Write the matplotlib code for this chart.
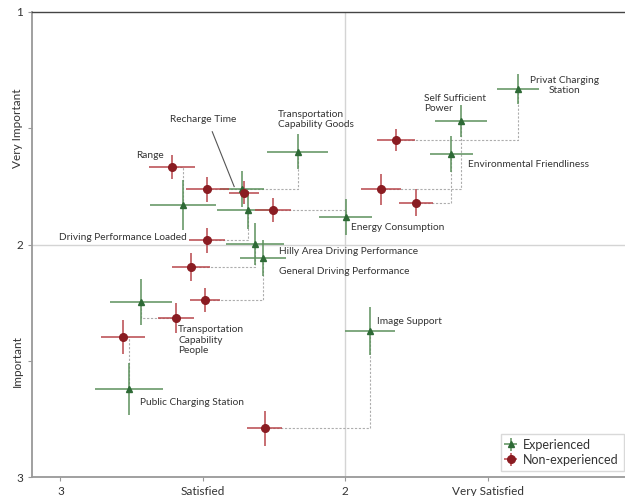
import matplotlib
matplotlib.use("Agg")
import matplotlib.pyplot as plt

plt.rcParams['font.family'] = ['Lato', 'DejaVu Sans']

items = ["Privat Charging Station", "Self Sufficient Power", "Environmental Friendliness",
         "Energy Consumption", "Transportation Capability Goods", "Recharge Time", "Range",
         "Driving Performance Loaded", "Hilly Area Driving Performance",
         "General Driving Performance", "Transportation Capability People",
         "Public Charging Station", "Image Support"]

# Experienced (satisfaction x, importance y, errors)
exp_x = [1.393, 1.594, 1.627, 1.999, 2.167, 2.363, 2.570, 2.343, 2.317, 2.290, 2.716, 2.759, 1.914]
exp_y = [1.330, 1.469, 1.611, 1.880, 1.601, 1.763, 1.830, 1.852, 1.999, 2.059, 2.246, 2.621, 2.371]
exp_xerr = [0.074, 0.092, 0.076, 0.092, 0.106, 0.077, 0.116, 0.106, 0.102, 0.081, 0.109, 0.120, 0.088]
exp_yerr = [0.065, 0.069, 0.077, 0.077, 0.075, 0.077, 0.108, 0.080, 0.090, 0.077, 0.099, 0.112, 0.103]

# Non-experienced
non_x = [1.823, 1.873, 1.752, 2.255, 2.484, 2.355, 2.608, 2.484, 2.541, 2.493, 2.595, 2.780, 2.283]
non_y = [1.551, 1.763, 1.820, 1.852, 1.763, 1.777, 1.668, 1.981, 2.095, 2.239, 2.316, 2.397, 2.791]
non_xerr = [0.067, 0.070, 0.060, 0.063, 0.075, 0.053, 0.081, 0.063, 0.067, 0.053, 0.063, 0.076, 0.062]
non_yerr = [0.049, 0.067, 0.058, 0.052, 0.054, 0.050, 0.052, 0.054, 0.060, 0.052, 0.065, 0.073, 0.075]

x_ticks = [3, 2.5, 2, 1.5]
x_ticklabels = ["3", "Satisfied", "2", "Very Satisfied"]
y_ticks = [1, 1.5, 2, 2.5, 3]
y_ticklabels = ["1", "Very Important", "2", "Important", "3"]

# label placement (text anchor positions)
label_text = ["Privat Charging\nStation", "Self Sufficient\nPower", "Environmental Friendliness",
              "Energy Consumption", "Transportation\nCapability Goods", "Recharge Time", "Range",
              "Driving Performance Loaded", "Hilly Area Driving Performance",
              "General Driving Performance", "Transportation\nCapability\nPeople",
              "Public Charging Station", "Image Support"]
label_pos = [(1.231, 1.316, 'center'), (1.723, 1.394, 'left'), (1.570, 1.654, 'left'),
             (1.979, 1.928, 'left'), (2.235, 1.462, 'left'), (2.615, 1.461, 'left'),
             (2.735, 1.619, 'left'), (3.004, 1.971, 'left'), (2.234, 2.032, 'left'),
             (2.234, 2.117, 'left'), (2.587, 2.411, 'left'), (2.720, 2.679, 'left'),
             (1.887, 2.332, 'left')]

GREEN_M = '#2e6a36'
GREEN_E = '#5c915c'
RED_M = '#8a1c22'
RED_E = '#b8474c'

fig = plt.figure(figsize=(6.25, 4.96), dpi=100)
ax = fig.add_axes([32/625, 1-477/496, 598/625, 465/496])

ax.set_xlim(3.1, 1.0)
ax.set_ylim(3, 1)

# reference lines
ax.axvline(2, color='#d4d4d4', lw=1.0, zorder=0)
ax.axhline(2, color='#d4d4d4', lw=1.0, zorder=0)

# connectors
for xr, yr, xg, yg in zip(non_x, non_y, exp_x, exp_y):
    ax.plot([xr, xg, xg], [yr, yr, yg], color='#adadad', lw=0.8, ls=(0, (2, 1.5)), zorder=1)

e1 = ax.errorbar(exp_x, exp_y, xerr=exp_xerr, yerr=exp_yerr, fmt='^', color=GREEN_M,
                 ecolor=GREEN_E, elinewidth=1.1, markersize=5, capsize=0, zorder=3,
                 label='Experienced')
e2 = ax.errorbar(non_x, non_y, xerr=non_xerr, yerr=non_yerr, fmt='o', color=RED_M,
                 ecolor=RED_E, elinewidth=1.1, markersize=5.5, capsize=0, zorder=3,
                 label='Non-experienced')

for t, (lx, ly, ha) in zip(label_text, label_pos):
    ax.text(lx, ly, t, ha=ha, va='center', fontsize=7.3, color='#333333',
            linespacing=1.2, zorder=4)

# leader for Recharge Time
ax.plot([2.467, 2.390], [1.515, 1.751], color='#555555', lw=0.8, zorder=4)

ax.set_xticks(x_ticks)
ax.set_xticklabels(x_ticklabels, fontsize=8.5, color='#333333')
ax.set_yticks(y_ticks)
ax.set_yticklabels(y_ticklabels, fontsize=8.5, color='#333333')
for lbl, txt in zip(ax.get_yticklabels(), y_ticklabels):
    if not txt.isdigit():
        lbl.set_rotation(90)
        lbl.set_va('center')
ax.tick_params(axis='both', length=3, color='#999999')

for s in ['left', 'bottom']:
    ax.spines[s].set_color('#999999')
    ax.spines[s].set_linewidth(1.3)
ax.spines['top'].set_color('#444444')
ax.spines['top'].set_linewidth(1.0)
ax.spines['right'].set_visible(False)

leg = ax.legend(handles=[e1, e2], loc='lower right', fontsize=9, frameon=True,
                fancybox=False, edgecolor='#d0d0d0', borderaxespad=0.5,
                handlelength=0.8, handletextpad=0.6, borderpad=0.4, labelspacing=0.25)
for t in leg.get_texts():
    t.set_color('#333333')

fig.savefig('out.png', dpi=100)
